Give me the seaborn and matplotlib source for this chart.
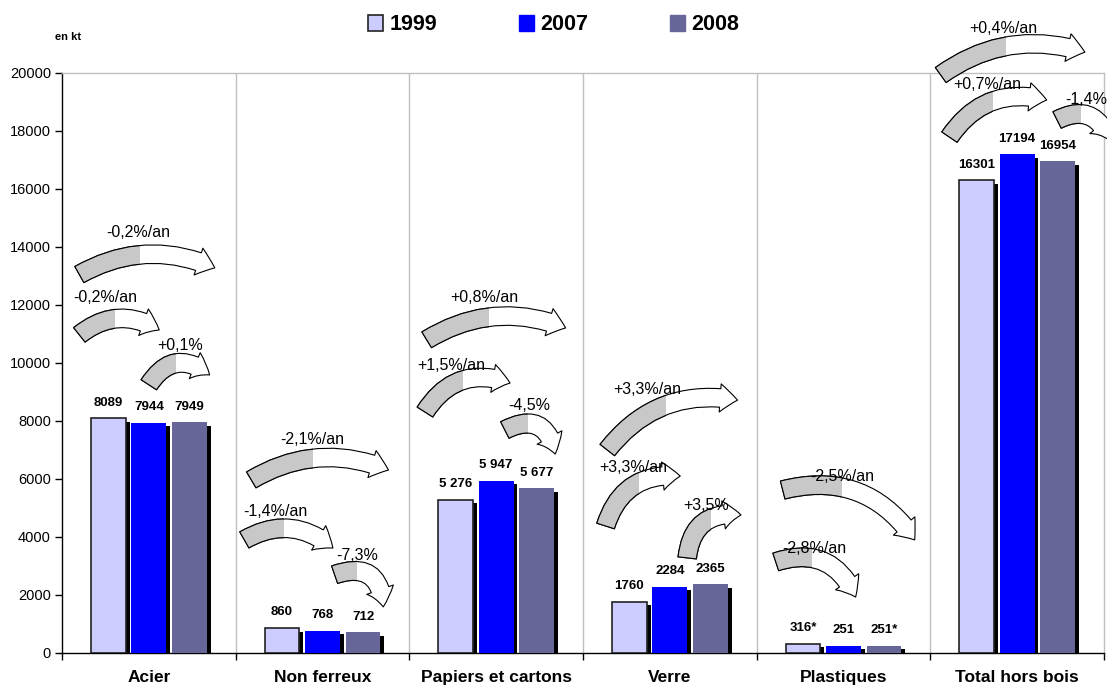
import pandas as pd
import matplotlib.pyplot as plt
import seaborn as sns
from matplotlib.patches import FancyArrowPatch, Rectangle, Patch
from matplotlib import patheffects as pe

# données (en kt)
categories = ['Acier', 'Non ferreux', 'Papiers et cartons', 'Verre', 'Plastiques', 'Total hors bois']
years = ['1999', '2007', '2008']
v1999 = [8089, 860, 5276, 1760, 316, 16301]
v2007 = [7944, 768, 5947, 2284, 251, 17194]
v2008 = [7949, 712, 5677, 2365, 251, 16954]
lab1999 = ['8089', '860', '5 276', '1760', '316*', '16301']
lab2007 = ['7944', '768', '5 947', '2284', '251', '17194']
lab2008 = ['7949', '712', '5 677', '2365', '251*', '16954']
colors = ['#CCCCFF', '#0000FF', '#666699']

# flèches d'évolution : texte, position du texte, départ, arrivée, courbure
evol_text = ['-0,2%/an', '-0,2%/an', '+0,1%',
             '-2,1%/an', '-1,4%/an', '-7,3%',
             '+0,8%/an', '+1,5%/an', '-4,5%',
             '+3,3%/an', '+3,3%/an', '+3,5%',
             '-2,5%/an', '-2,8%/an',
             '+0,4%/an', '+0,7%/an', '-1,4%']
evol_xy = [(-0.06, 14500), (-0.25, 12250), (0.18, 10600),
           (0.94, 7350), (0.73, 4870), (1.20, 3350),
           (1.93, 12250), (1.74, 9900), (2.19, 8550),
           (2.87, 9070), (2.79, 6380), (3.21, 5100),
           (3.99, 6100), (3.83, 3620),
           (4.92, 21550), (4.83, 19600), (5.40, 19070)]
evol_start = [(-0.40, 13050), (-0.40, 10970), (0.00, 9250),
              (0.59, 5970), (0.55, 3900), (1.07, 2700),
              (1.60, 10800), (1.59, 8310), (2.05, 7690),
              (2.64, 7000), (2.63, 4380), (3.10, 3280),
              (3.65, 5620), (3.61, 3140),
              (4.56, 19930), (4.61, 17790), (5.23, 18380)]
evol_end = [(0.38, 13280), (0.06, 11140), (0.35, 9590),
            (1.38, 6310), (1.06, 3620), (1.35, 1590),
            (2.40, 11210), (2.08, 9310), (2.34, 6860),
            (3.39, 8720), (3.06, 6100), (3.41, 4760),
            (4.41, 3900), (4.07, 1930),
            (5.39, 20720), (5.17, 19070), (5.53, 17690)]
evol_rad = [-0.25, -0.35, -0.55,
            -0.25, -0.35, -0.65,
            -0.25, -0.4, -0.65,
            -0.3, -0.4, -0.5,
            -0.35, -0.45,
            -0.25, -0.35, -0.55]

df = pd.DataFrame({
    'cat': categories * 3,
    'year': [y for y in years for _ in categories],
    'val': v1999 + v2007 + v2008,
})

sns.set_style('white')
plt.rcParams['font.family'] = ['Liberation Sans', 'DejaVu Sans']
plt.rcParams['text.color'] = 'black'
plt.rcParams['xtick.color'] = 'black'
plt.rcParams['ytick.color'] = 'black'

fig = plt.figure(figsize=(11.07, 6.87), dpi=100)
ax = fig.add_axes([62 / 1107, 34 / 687, 1042 / 1107, 580 / 687])

sns.barplot(data=df, x='cat', y='val', hue='year', palette=colors, saturation=1,
            width=0.7, gap=0.14, legend=False, ax=ax, zorder=3)

shadow = [pe.SimplePatchShadow(offset=(2.8, -2.5), shadow_rgbFace='black', alpha=1), pe.Normal()]
for k, (cont, labs) in enumerate(zip(ax.containers, [lab1999, lab2007, lab2008])):
    for bar in cont:
        bar.set_path_effects(shadow)
        bar.set_linewidth(1.2 if k == 0 else 0)
        bar.set_edgecolor('#222222')
    ax.bar_label(cont, labels=labs, padding=7, fontsize=9.5, fontweight='bold', color='black')

ax.set_xlim(-0.5, 5.5)
ax.set_ylim(0, 20000)
ax.set_yticks(range(0, 20001, 2000))
ax.set_xlabel('')
ax.set_ylabel('')
ax.tick_params(axis='y', length=5, width=1, direction='out', labelsize=10.5, pad=3, left=True)
ax.tick_params(axis='x', which='major', length=0, labelsize=12.5, pad=12)
for t in ax.get_xticklabels():
    t.set_fontweight('bold')
ax.set_xticks([i + 0.5 for i in range(-1, 6)], minor=True)
ax.tick_params(axis='x', which='minor', length=5, width=1, direction='out', bottom=True)
for i in range(5):
    ax.axvline(i + 0.5, color='#c0c0c0', lw=1, zorder=0)
ax.spines['left'].set_color('black')
ax.spines['bottom'].set_color('black')
ax.spines['top'].set_color('#c0c0c0')
ax.spines['right'].set_color('#c0c0c0')
for s in ax.spines.values():
    s.set_linewidth(1)

# flèches courbes (gris à gauche, blanc à droite)
style = 'simple,head_length=0.9,head_width=1.45,tail_width=0.95'
for txt, xy, p0, p1, rad in zip(evol_text, evol_xy, evol_start, evol_end, evol_rad):
    for face in ['white', '#c8c8c8']:
        arr = FancyArrowPatch(p0, p1, arrowstyle=style, connectionstyle=f'arc3,rad={rad}',
                              mutation_scale=14, facecolor=face, edgecolor='black',
                              lw=0.8, shrinkA=0, shrinkB=0, zorder=4)
        ax.add_patch(arr)
        if face == 'white':
            arr.set_clip_on(False)
        else:
            xm = p0[0] + 0.45 * (p1[0] - p0[0])
            clip = Rectangle((p0[0] - 1, -5000), xm - p0[0] + 1, 40000, transform=ax.transData)
            arr.set_clip_path(clip)
    ax.text(xy[0], xy[1], txt, ha='center', va='center', fontsize=11.5, zorder=5, clip_on=False)

fig.text(55 / 1107, 1 - 37 / 687, 'en kt', fontsize=8, fontweight='bold', ha='left', va='center')

handles = [Patch(facecolor=colors[0], edgecolor='#222222', lw=1.2),
           Patch(facecolor=colors[1], edgecolor=colors[1]),
           Patch(facecolor=colors[2], edgecolor=colors[2])]
leg = fig.legend(handles, years, loc='center', bbox_to_anchor=(0.5, 1 - 25 / 687), ncol=3,
                 frameon=False, prop={'size': 15.5, 'weight': 'bold'},
                 handlelength=0.7, handleheight=0.7, handletextpad=0.3, columnspacing=3.8)

fig.savefig('out.png', dpi=100)
